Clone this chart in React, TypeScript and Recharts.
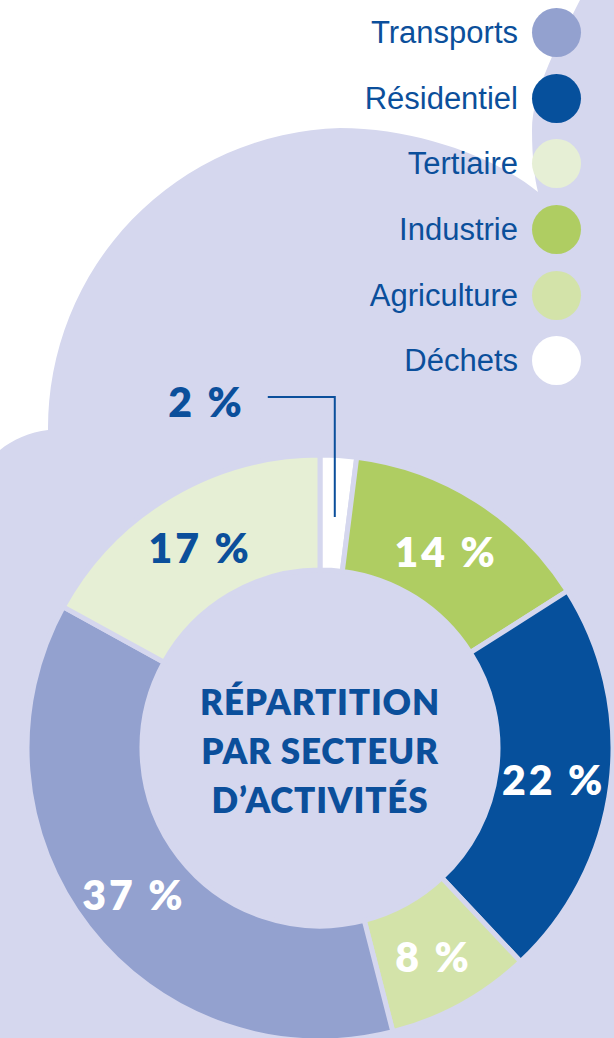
import React from 'react';
import { PieChart, Pie, Cell, Legend, Label } from 'recharts';

const sectors = ['Déchets', 'Industrie', 'Résidentiel', 'Agriculture', 'Transports', 'Tertiaire'];
const shares = [2, 14, 22, 8, 37, 17];
const sliceColors = ['#ffffff', '#afcd62', '#06509c', '#d3e3a9', '#93a1cf', '#e6efd5'];
const labelColors = ['#0b4f9b', '#ffffff', '#ffffff', '#ffffff', '#ffffff', '#0b4f9b'];
const legendOrder = ['Transports', 'Résidentiel', 'Tertiaire', 'Industrie', 'Agriculture', 'Déchets'];
const titleLines = ['RÉPARTITION', 'PAR SECTEUR', 'D\u2019ACTIVITÉS'];

const data = sectors.map((name, i) => ({ name, value: shares[i] }));

const BLUE = '#0b4f9b';
const LAVENDER = '#d5d7ee';
const RADIAN = Math.PI / 180;
const LABEL_FONT = 'Lato, "Open Sans", sans-serif';

const pctText = (v: number) => `${v} %`;

const renderSliceLabel = (props: any) => {
  const { cx, cy, midAngle, innerRadius, outerRadius, index, value } = props;
  const r = (innerRadius + outerRadius) / 2;
  const x = cx + r * Math.cos(-midAngle * RADIAN);
  const y = cy + r * Math.sin(-midAngle * RADIAN);
  const text = pctText(value);
  if (index === 0) {
    const yTop = cy - outerRadius - 58;
    const xLeft = x - 67;
    return (
      <g key={`lbl-${index}`}>
        <polyline
          points={`${x},${y + 4} ${x},${yTop} ${xLeft},${yTop}`}
          fill="none"
          stroke={BLUE}
          strokeWidth={2}
        />
        <text
          x={xLeft - 23}
          y={yTop + 4}
          textAnchor="end"
          dominantBaseline="central"
          fill={labelColors[index]}
          fontFamily={LABEL_FONT}
          fontWeight={800}
          fontSize={41}
          letterSpacing={3}
        >
          {text}
        </text>
      </g>
    );
  }
  return (
    <text
      key={`lbl-${index}`}
      x={x}
      y={y + 2}
      textAnchor="middle"
      dominantBaseline="central"
      fill={labelColors[index]}
      fontFamily={LABEL_FONT}
      fontWeight={800}
      fontSize={41}
      letterSpacing={3}
    >
      {text}
    </text>
  );
};

const CenterTitle = (props: any) => {
  const vb = props.viewBox || {};
  const cx = vb.cx ?? 320;
  const cy = vb.cy ?? 748;
  return (
    <text
      x={cx}
      y={cy}
      textAnchor="middle"
      fill={BLUE}
      fontFamily={LABEL_FONT}
      fontWeight={800}
      fontSize={35}
      letterSpacing={0.8}
    >
      {titleLines.map((line, i) => (
        <tspan key={line} x={cx} y={cy - 33 + (i * 49)}>
          {line}
        </tspan>
      ))}
    </text>
  );
};

const renderLegend = (props: any) => {
  const payload: any[] = props.payload || [];
  return (
    <div style={{ display: 'flex', flexDirection: 'column' }}>
      {legendOrder.map((name) => {
        const entry = payload.find((p) => p.value === name);
        const color = entry ? entry.color : '#ccc';
        return (
          <div
            key={name}
            style={{
              display: 'flex',
              justifyContent: 'flex-end',
              alignItems: 'center',
              height: 65.6,
            }}
          >
            <span
              style={{
                fontFamily: '"Liberation Sans", Arial, sans-serif',
                fontSize: 31,
                color: BLUE,
                marginRight: 14,
                lineHeight: 1,
              }}
            >
              {name}
            </span>
            <span
              style={{
                display: 'inline-block',
                width: 49,
                height: 49,
                borderRadius: '50%',
                background: color,
              }}
            />
          </div>
        );
      })}
    </div>
  );
};

export default function App() {
  return (
    <div style={{ position: 'absolute', left: 0, top: 0, width: 614, height: 1038, background: LAVENDER, overflow: 'hidden' }}>
      <svg width={614} height={1038} style={{ position: 'absolute', left: 0, top: 0 }}>
        <path
          d="M0,0 L580,0 C560,40 532,90 532,130 C532,160 535,180 538,192 C500,160 420,128 340,128 A300,300 0 0 0 48,430 C30,432 12,440 0,450 Z"
          fill="#ffffff"
        />
      </svg>
      <div style={{ position: 'absolute', left: 0, top: 0 }}>
        <PieChart width={614} height={1038} margin={{ top: 0, right: 0, bottom: 0, left: 0 }}>
          <Legend
            content={renderLegend}
            layout="vertical"
            verticalAlign="top"
            align="right"
            wrapperStyle={{ position: 'absolute', top: 0, right: 33, width: 320 }}
          />
          <Pie
            data={data}
            dataKey="value"
            nameKey="name"
            cx={320}
            cy={748}
            innerRadius={178}
            outerRadius={293}
            startAngle={90}
            endAngle={-270}
            stroke={LAVENDER}
            strokeWidth={5}
            label={renderSliceLabel}
            labelLine={false}
            isAnimationActive={false}
          >
            {data.map((d, i) => (
              <Cell key={d.name} fill={sliceColors[i]} />
            ))}
            <Label content={CenterTitle} position="center" />
          </Pie>
        </PieChart>
      </div>
    </div>
  );
}
